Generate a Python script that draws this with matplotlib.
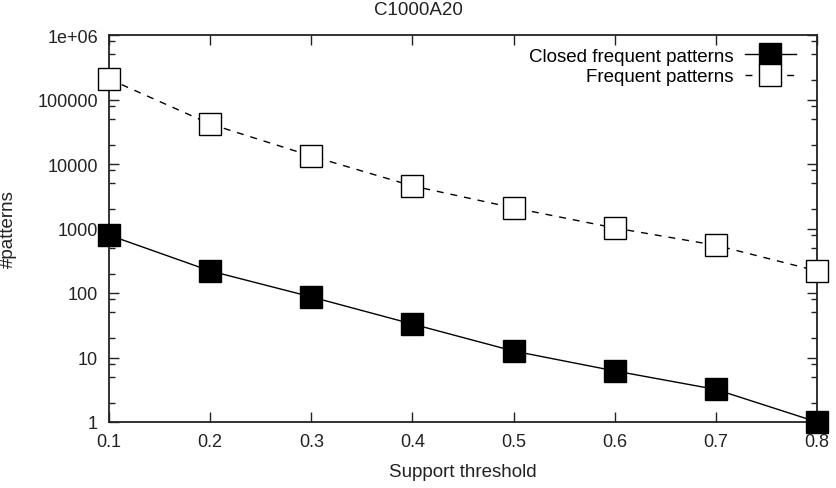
import matplotlib
matplotlib.use("Agg")
import matplotlib.pyplot as plt
from matplotlib.ticker import LogLocator, FixedLocator

plt.rcParams['font.family'] = ['Liberation Sans', 'DejaVu Sans']

support = [0.1, 0.2, 0.3, 0.4, 0.5, 0.6, 0.7, 0.8]
closed = [790, 220, 87, 33, 12.6, 6.2, 3.2, 1.0]
frequent = [208000, 41700, 13300, 4570, 2090, 1020, 550, 220]
y_ticks = [1, 10, 100, 1000, 10000, 100000, 1000000]
y_labels = ["1", "10", "100", "1000", "10000", "100000", "1e+06"]

W, H = 837, 489
fig = plt.figure(figsize=(W / 100, H / 100), dpi=100)
ax = fig.add_axes([109/W, 1 - 423/H, (817-109)/W, (423-36)/H])

ax.plot(support, closed, color="black", lw=1, marker="s", markersize=16,
        markerfacecolor="black", markeredgecolor="black",
        label="Closed frequent patterns", clip_on=False, zorder=3)
ax.plot(support, frequent, color="black", lw=1, ls=(0, (5, 5)), marker="s",
        markersize=16, markerfacecolor="white", markeredgecolor="black",
        markeredgewidth=1, label="Frequent patterns", clip_on=False, zorder=3)

ax.set_yscale("log")
ax.set_xlim(0.1, 0.8)
ax.set_ylim(1, 1e6)
ax.xaxis.set_major_locator(FixedLocator(support))
ax.set_xticklabels([f"{v:.1f}" for v in support])
ax.yaxis.set_major_locator(FixedLocator(y_ticks))
ax.set_yticklabels(y_labels)
ax.yaxis.set_minor_locator(LogLocator(base=10, subs=[2, 5, 8]))
ax.yaxis.set_minor_formatter(plt.NullFormatter())

ax.tick_params(which="both", direction="in", top=True, right=True,
               labelsize=13, colors="#222222", width=1)
ax.tick_params(which="major", length=7, pad=8)
ax.tick_params(which="minor", length=4)
for s in ax.spines.values():
    s.set_linewidth(1.3)
    s.set_color("#222222")

fig.text(463/W, 1 - 473/H, "Support threshold", ha="center", va="center",
         fontsize=13.5, color="#222222")
fig.text(8/W, 1 - 229/H, "#patterns", ha="center", va="center",
         rotation=90, fontsize=13.5, color="#222222")
fig.text(0.5, 1 - 15/H, "C1000A20", ha="center", va="baseline",
         fontsize=13.5, color="#222222")

leg = ax.legend(loc="upper right", bbox_to_anchor=(0.970, 0.967),
                frameon=False, markerfirst=False, fontsize=13.5,
                handlelength=2.7, borderaxespad=0, borderpad=0,
                labelspacing=0.17, handletextpad=0.64)

fig.savefig("out.png", dpi=100)
